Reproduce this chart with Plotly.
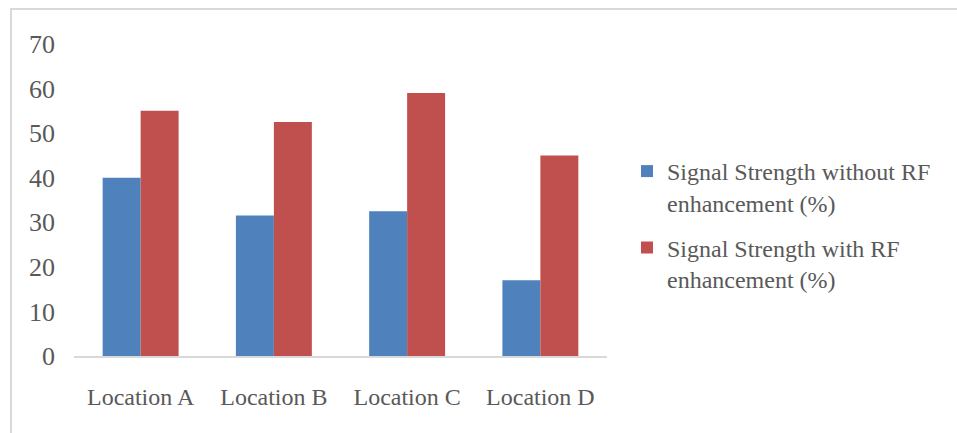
import plotly.graph_objects as go

# Chart data
locations = ["Location A", "Location B", "Location C", "Location D"]
without_rf = [40, 31.5, 32.5, 17]
with_rf = [55, 52.5, 59, 45]
series_names = [
    "Signal Strength without RF<br>enhancement (%)",
    "Signal Strength with RF<br>enhancement (%)",
]
y_ticks = [0, 10, 20, 30, 40, 50, 60, 70]

W, H = 957, 433
L, R, T, B = 74, 350, 44, 77

serif = "Liberation Serif, Times New Roman, serif"
text_font = dict(family=serif, size=24, color="#595959")
ytick_font = dict(family=serif, size=26, color="#595959")

fig = go.Figure()
fig.add_trace(go.Bar(x=locations, y=without_rf, name=series_names[0], legendgroup="without",
                     marker=dict(color="#4f81bd", line=dict(width=0))))
fig.add_trace(go.Bar(x=locations, y=with_rf, name=series_names[1], legendgroup="with",
                     marker=dict(color="#c0504d", line=dict(width=0))))

def px_x(p):
    return (p - L) / (W - L - R)

def px_y(p):
    return (H - B - p) / (H - T - B)

# Outer frame (top and left edges)
frame = dict(color="#d9d9d9", width=2)
fig.add_shape(type="line", xref="paper", yref="paper",
              x0=px_x(10), x1=px_x(W + 5), y0=px_y(9), y1=px_y(9), line=frame)
fig.add_shape(type="line", xref="paper", yref="paper",
              x0=px_x(11), x1=px_x(11), y0=px_y(9), y1=px_y(H + 5), line=frame)

fig.update_layout(
    width=W, height=H,
    margin=dict(l=L, r=R, t=T, b=B),
    paper_bgcolor="white", plot_bgcolor="white",
    barmode="group", bargap=0.43, bargroupgap=0,
    font=text_font,
    showlegend=True,
    legend=dict(x=px_x(627), xanchor="left", y=px_y(225), yanchor="middle",
                font=text_font, tracegroupgap=11, valign="top",
                bgcolor="rgba(0,0,0,0)"),
    xaxis=dict(showgrid=False, showline=True, linecolor="#d9d9d9", linewidth=2,
               ticks="", tickfont=text_font, ticklabelstandoff=18),
    yaxis=dict(range=[0, 70], tickvals=y_ticks, showgrid=False, showline=False,
               zeroline=False, ticks="", tickfont=ytick_font, ticklabelstandoff=18),
)

fig.write_html("out.html")
